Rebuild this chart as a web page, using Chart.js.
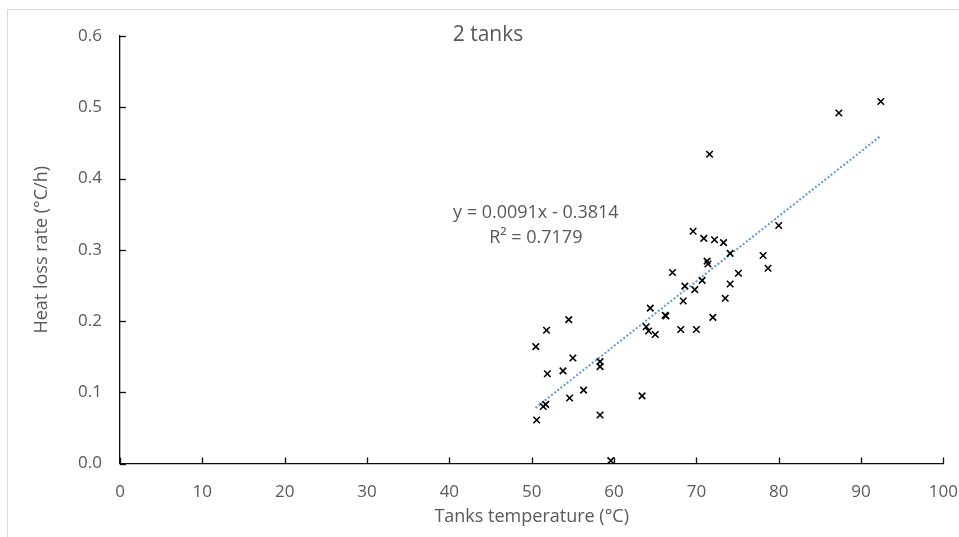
<!DOCTYPE html>
<html>
<head>
<meta charset="utf-8">
<title>2 tanks</title>
<script src="https://cdn.jsdelivr.net/npm/chart.js@4"></script>
<style>
  body { margin: 0; overflow: hidden; background: #fff; }
  .frame { position: absolute; left: 7px; top: 9px; width: 1200px; height: 1200px; border: 1px solid #d9d9d9; }
  #chart { position: absolute; left: 0; top: 0; }
</style>
</head>
<body>
<div class="frame"></div>
<canvas id="chart" width="976" height="537"></canvas>
<script>
// Measured points: tank temperature (°C) vs heat loss rate (°C/h)
const tempX = [50.5, 51.8, 50.6, 51.4, 51.7, 51.9, 53.8, 54.5, 54.6, 55.0,
               56.3, 58.3, 58.3, 58.3, 59.6, 63.4, 63.9, 64.2, 64.4, 65.0,
               66.2, 66.3, 67.1, 68.1, 68.4, 68.6, 69.6, 69.8, 70.0, 70.7,
               70.9, 71.3, 71.4, 71.6, 72.2, 72.0, 73.3, 73.5, 74.1, 74.1,
               75.1, 78.1, 78.7, 80.0, 87.3, 92.4];
const lossY = [0.164, 0.187, 0.061, 0.080, 0.083, 0.126, 0.130, 0.202, 0.092, 0.148,
               0.103, 0.143, 0.136, 0.068, 0.004, 0.095, 0.192, 0.186, 0.218, 0.181,
               0.208, 0.207, 0.268, 0.188, 0.228, 0.249, 0.326, 0.244, 0.188, 0.257,
               0.316, 0.284, 0.280, 0.434, 0.314, 0.205, 0.310, 0.232, 0.252, 0.295,
               0.267, 0.292, 0.274, 0.334, 0.492, 0.508];

// Linear trendline end points
const trendX = [50.45, 92.3];
const trendY = [0.078, 0.459];

const chartTitle = '2 tanks';
const eqLines = ['y = 0.0091x - 0.3814', 'R\u00B2 = 0.7179'];
const eqPos = { x: 50.5, y: [0.352, 0.317] };

const textColor = '#595959';
const axisColor = '#0d0d0d';
const fontFamily = '"Open Sans", sans-serif';

const points = tempX.map((t, i) => ({ x: t, y: lossY[i] }));
const trend = trendX.map((t, i) => ({ x: t, y: trendY[i] }));

// inward tick marks, title and trendline label
const overlay = {
    id: 'overlay',
    afterDraw(chart) {
        const { ctx, chartArea } = chart;
        const x = chart.scales.x;
        const y = chart.scales.y;
        ctx.save();
        ctx.strokeStyle = axisColor;
        ctx.lineWidth = 1.3;
        x.ticks.forEach(t => {
            const px = Math.round(x.getPixelForValue(t.value)) + 0.5;
            ctx.beginPath();
            ctx.moveTo(px, chartArea.bottom);
            ctx.lineTo(px, chartArea.bottom - 6);
            ctx.stroke();
        });
        y.ticks.forEach(t => {
            const py = Math.round(y.getPixelForValue(t.value)) + 0.5;
            ctx.beginPath();
            ctx.moveTo(chartArea.left, py);
            ctx.lineTo(chartArea.left + 6, py);
            ctx.stroke();
        });

        ctx.fillStyle = textColor;
        ctx.textAlign = 'center';
        ctx.textBaseline = 'middle';
        ctx.font = '21px ' + fontFamily;
        ctx.fillText(chartTitle, chart.width / 2, 35);

        ctx.font = '18px ' + fontFamily;
        eqLines.forEach((line, i) => {
            ctx.fillText(line, x.getPixelForValue(eqPos.x), y.getPixelForValue(eqPos.y[i]));
        });
        ctx.restore();
    }
};

new Chart(document.getElementById('chart'), {
    type: 'scatter',
    data: {
        datasets: [
            {
                label: 'Heat loss rate',
                data: points,
                pointStyle: 'crossRot',
                pointRadius: 4.6,
                pointHoverRadius: 4.6,
                borderColor: '#000',
                backgroundColor: '#000',
                pointBorderWidth: 1.6
            },
            {
                label: 'Linear trend',
                data: trend,
                showLine: true,
                pointRadius: 0,
                borderColor: '#5B9BD5',
                borderWidth: 2,
                borderDash: [2, 2]
            }
        ]
    },
    options: {
        responsive: false,
        animation: false,
        devicePixelRatio: 1,
        layout: { padding: { top: 36, right: 31, left: 0, bottom: 0 } },
        plugins: {
            legend: { display: false },
            tooltip: { enabled: false }
        },
        scales: {
            x: {
                type: 'linear',
                min: 0,
                max: 100,
                afterFit: s => { s.height = 73.5; },
                ticks: {
                    stepSize: 10,
                    color: textColor,
                    padding: 18,
                    font: { family: fontFamily, size: 17 }
                },
                grid: { drawOnChartArea: false, drawTicks: false },
                border: { color: axisColor, width: 1.3 },
                title: {
                    display: true,
                    text: 'Tanks temperature (°C)',
                    color: textColor,
                    padding: { top: 0, bottom: 9 },
                    font: { family: fontFamily, size: 18 }
                }
            },
            y: {
                min: 0,
                max: 0.6,
                afterFit: s => { s.width = 120; },
                ticks: {
                    stepSize: 0.1,
                    color: textColor,
                    padding: 18,
                    font: { family: fontFamily, size: 17 },
                    callback: v => v.toFixed(1)
                },
                grid: { drawOnChartArea: false, drawTicks: false },
                border: { color: axisColor, width: 1.3 },
                title: {
                    display: true,
                    text: 'Heat loss rate (°C/h)',
                    color: textColor,
                    padding: { top: 31, bottom: 0 },
                    font: { family: fontFamily, size: 18 }
                }
            }
        }
    },
    plugins: [overlay]
});
</script>
</body>
</html>
